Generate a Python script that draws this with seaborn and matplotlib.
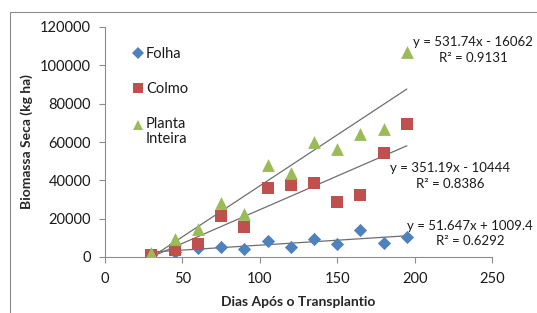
import numpy as np
import pandas as pd
import matplotlib
matplotlib.use("Agg")
import matplotlib.pyplot as plt
import seaborn as sns
from matplotlib.patches import Rectangle
from matplotlib.transforms import Affine2D

dias = [30, 45, 60, 75, 90, 105, 120, 135, 150, 165, 180, 195]
folha = [1000, 2500, 4700, 5400, 4300, 8500, 5400, 9600, 6800, 14300, 7100, 10600]
colmo = [1200, 3600, 6800, 21400, 15800, 36200, 37600, 38800, 28900, 32500, 54500, 69600]
planta = [1900, 9200, 14600, 28400, 22300, 48200, 43700, 59900, 56200, 64200, 67000, 107000]

series_names = ["Folha", "Colmo", "Planta Inteira"]
legend_labels = ["Folha", "Colmo", "Planta\nInteira"]
slopes = [51.647, 351.19, 531.74]
intercepts = [1009.4, -10444, -16062]
eq_labels = ["y = 51.647x + 1009.4\nR² = 0.6292",
             "y = 351.19x - 10444\nR² = 0.8386",
             "y = 531.74x - 16062\nR² = 0.9131"]
x_ticks = [0, 50, 100, 150, 200, 250]
y_ticks = [0, 20000, 40000, 60000, 80000, 100000, 120000]

df = pd.DataFrame({
    "Dias": dias * 3,
    "Biomassa": folha + colmo + planta,
    "Serie": sum([[n] * len(dias) for n in series_names], []),
})

sns.set_style("white")
plt.rcParams["font.family"] = ["Lato", "DejaVu Sans"]

colors = {"Folha": "#4F81BD", "Colmo": "#C0504D", "Planta Inteira": "#9BBB59"}
markers = {"Folha": "D", "Colmo": "s", "Planta Inteira": "^"}
sizes = {"Folha": 45, "Colmo": 85, "Planta Inteira": 85}

fig = plt.figure(figsize=(5.37, 3.13), dpi=100)
fig.patches.append(Rectangle((10 / 537, -0.05), 1.2, 1 - 12 / 313 + 0.05,
                             transform=fig.transFigure, fill=False,
                             edgecolor="#8c8c8c", linewidth=0.8))
ax = fig.add_axes([105 / 537, 1 - 257 / 313, (492 - 105) / 537, (257 - 27) / 313])

# trendlines (behind markers)
xfit = np.array([dias[0], dias[-1]], dtype=float)
for s, b in zip(slopes, intercepts):
    ax.plot(xfit, s * xfit + b, color="#6e6e6e", linewidth=0.9, zorder=1)

for name in series_names:
    sub = df[df["Serie"] == name]
    sns.scatterplot(data=sub, x="Dias", y="Biomassa", marker=markers[name],
                    color=colors[name], s=sizes[name], linewidth=0,
                    ax=ax, zorder=3, label=name, legend=False)

ax.set_xlim(0, 250)
ax.set_ylim(0, 120000)
ax.set_xticks(x_ticks)
ax.set_yticks(y_ticks)
ax.tick_params(axis="both", labelsize=10.5, colors="#8c8c8c", length=4,
               direction="out", bottom=True, left=True)
ax.tick_params(axis="y", pad=6)
ax.tick_params(axis="x", pad=7)
for t in ax.get_xticklabels() + ax.get_yticklabels():
    t.set_color("#1a1a1a")
for sp in ["top", "right"]:
    ax.spines[sp].set_visible(False)
for sp in ["left", "bottom"]:
    ax.spines[sp].set_color("#8c8c8c")
    ax.spines[sp].set_linewidth(0.8)

ax.set_xlabel("Dias Após o Transplantio", fontsize=10, fontweight="bold", labelpad=7)
ax.set_ylabel("Biomassa Seca (kg ha)", fontsize=10, fontweight="bold", labelpad=5)

# equation labels
eq_pos = [(236, 12300), (223, 42300), (238, 108100)]
for (x, y), lab in zip(eq_pos, eq_labels):
    ax.text(x, y, lab, ha="center", va="center", fontsize=9.5,
            linespacing=1.35, clip_on=False, color="#1a1a1a")

# legend
handles = []
for name in series_names:
    handles.append(plt.Line2D([], [], linestyle="none", marker=markers[name],
                              color=colors[name],
                              markersize=np.sqrt(sizes[name]) * 0.85,
                              markeredgewidth=0))
leg = ax.legend(handles, legend_labels, loc="upper left",
                bbox_to_anchor=(0.04, 0.97), frameon=False, fontsize=10.5,
                handlelength=0.6, handletextpad=0.25, labelspacing=1.45)
for t in leg.get_texts():
    t.set_linespacing(1.05)
    t.set_color("#1a1a1a")
# align the last legend marker with the first line of its two-line label
h3 = leg.legend_handles[2]
h3.set_transform(h3.get_transform() + Affine2D().translate(0, 7))

fig.savefig("out.png", dpi=100)
